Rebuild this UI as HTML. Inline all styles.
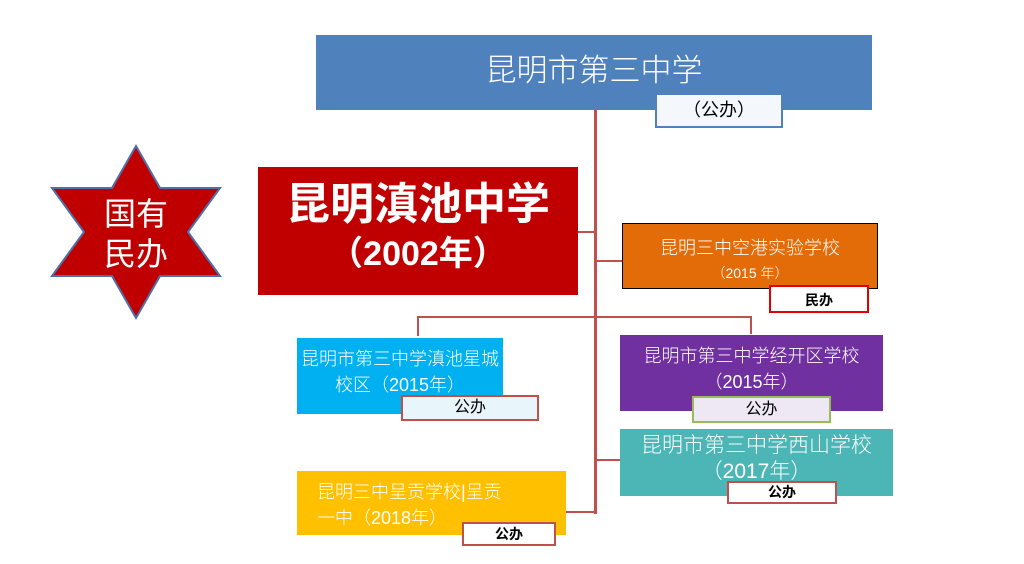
<!DOCTYPE html>
<html><head><meta charset="utf-8"><style>
body{margin:0;width:1024px;height:564px;background:#fff;position:relative;overflow:hidden;font-family:"Liberation Sans","Noto Sans CJK SC",sans-serif}
.b{position:absolute;color:#fff;text-align:center;box-sizing:border-box;font-weight:300}
.l{position:absolute;background:#fff;box-sizing:border-box;text-align:center;color:#000;font-weight:bold}
.ln{position:absolute;background:#c0504d}
</style></head><body>
<svg style="position:absolute;left:0;top:0" width="1024" height="564">
<polygon points="136,146 160,188 220,188 188,232 220,276 160,276 136,318 112,276 52,276 84,232 52,188 112,188" fill="#c00000" stroke="#4f6fa8" stroke-width="2"/>
</svg>
<div class="b" style="left:91px;top:194px;width:90px;font-size:32px;line-height:40px;font-weight:normal">国有<br>民办</div>
<div class="b" style="left:316px;top:35px;width:556px;height:75px;background:#4f81bd;font-size:31px;padding-top:10px">昆明市第三中学</div>
<div class="l" style="left:655px;top:93px;width:128px;height:35px;border:2px solid #4f81bd;font-weight:normal;font-size:18px;line-height:30px;background:#f4f8fc">（公办）</div>
<div class="b" style="left:258px;top:167px;width:320px;height:128px;background:#c00000;font-weight:bold">
<div style="font-size:44px;margin-top:12px;line-height:52px">昆明滇池中学</div>
<div style="font-size:34px;line-height:46px">（2002年）</div></div>
<div class="ln" style="left:594px;top:110px;width:3px;height:404px"></div>
<div class="ln" style="left:578px;top:231px;width:17px;height:2px"></div>
<div class="ln" style="left:595px;top:260px;width:27px;height:2px"></div>
<div class="ln" style="left:417px;top:316px;width:335px;height:2px"></div>
<div class="ln" style="left:417px;top:316px;width:2px;height:20px"></div>
<div class="ln" style="left:750px;top:316px;width:2px;height:18px"></div>
<div class="ln" style="left:596px;top:459px;width:25px;height:2px"></div>
<div class="ln" style="left:566px;top:511px;width:30px;height:2px"></div>
<div class="b" style="left:622px;top:223px;width:256px;height:66px;background:#e36c09;border:1px solid #000;font-size:18px;padding-top:12px;line-height:24px">昆明三中空港实验学校<br><span style="font-size:14px">（2015 年）</span></div>
<div class="l" style="left:769px;top:285px;width:100px;height:28px;border:2px solid #e00000;font-size:14px;line-height:26px">民办</div>
<div class="b" style="left:297px;top:338px;width:206px;height:76px;background:#00b0f0;font-size:18px;line-height:26px;padding-top:8px">昆明市第三中学滇池星城<br>校区（2015年）</div>
<div class="l" style="left:401px;top:395px;width:138px;height:26px;border:2px solid #c0504d;background:#e8f6fc;font-size:16px;line-height:22px;font-weight:normal">公办</div>
<div class="b" style="left:620px;top:335px;width:263px;height:76px;background:#7030a0;font-size:18px;line-height:26px;padding-top:8px">昆明市第三中学经开区学校<br>（2015年）</div>
<div class="l" style="left:692px;top:396px;width:139px;height:27px;border:2px solid #9bbb59;background:#ede8f4;font-size:16px;line-height:23px;font-weight:normal">公办</div>
<div class="b" style="left:620px;top:429px;width:273px;height:67px;background:#4bb6b5;font-size:21px;line-height:26px;padding-top:4px">昆明市第三中学西山学校<br>（2017年）</div>
<div class="l" style="left:727px;top:481px;width:110px;height:23px;border:2px solid #c0504d;font-size:14px;line-height:19px">公办</div>
<div class="b" style="left:297px;top:471px;width:269px;height:64px;background:#ffc000;font-size:18px;line-height:26px;padding-top:8px;text-align:left;padding-left:20px">昆明三中呈贡学校|呈贡<br>一中（2018年）</div>
<div class="l" style="left:462px;top:522px;width:94px;height:24px;border:2px solid #c0504d;font-size:14px;line-height:20px">公办</div>
</body></html>
